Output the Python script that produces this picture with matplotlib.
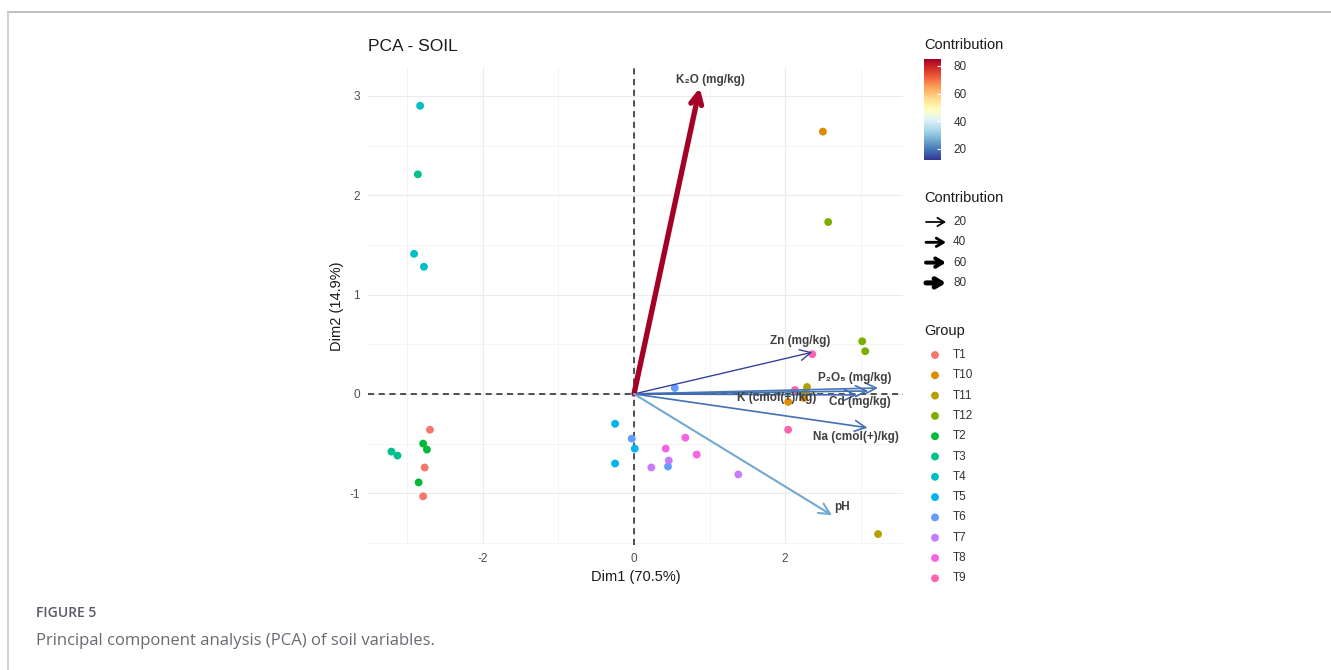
import numpy as np
import matplotlib
matplotlib.use("Agg")
import matplotlib.pyplot as plt
from matplotlib.colors import Normalize
from matplotlib.cm import ScalarMappable
from matplotlib.lines import Line2D

plt.rcParams['font.family'] = ['Liberation Sans', 'DejaVu Sans']
plt.rcParams['axes.unicode_minus'] = False

# ---- data ----
groups = ["T1", "T10", "T11", "T12", "T2", "T3", "T4", "T5", "T6", "T7", "T8", "T9"]
group_colors = ["#F8766D", "#DE8C00", "#B79F00", "#7CAE00", "#00BA38", "#00C08B",
                "#00BFC4", "#00B4F0", "#619CFF", "#C77CFF", "#F564E3", "#FF64B0"]
ind_dim1 = {
    "T1": [-2.70, -2.77, -2.79],
    "T10": [2.50, 2.04, 2.25],
    "T11": [3.23, 2.29, 2.27],
    "T12": [2.57, 3.02, 3.06],
    "T2": [-2.79, -2.74, -2.85],
    "T3": [-2.86, -3.21, -3.13],
    "T4": [-2.83, -2.91, -2.78],
    "T5": [-0.25, -0.25, 0.01],
    "T6": [-0.03, 0.54, 0.45],
    "T7": [0.23, 0.46, 1.38],
    "T8": [0.42, 0.68, 0.83],
    "T9": [2.36, 2.04, 2.13],
}
ind_dim2 = {
    "T1": [-0.36, -0.74, -1.03],
    "T10": [2.64, -0.08, -0.04],
    "T11": [-1.41, 0.07, 0.02],
    "T12": [1.73, 0.53, 0.43],
    "T2": [-0.50, -0.56, -0.89],
    "T3": [2.21, -0.58, -0.62],
    "T4": [2.90, 1.41, 1.28],
    "T5": [-0.30, -0.70, -0.55],
    "T6": [-0.45, 0.06, -0.73],
    "T7": [-0.74, -0.67, -0.81],
    "T8": [-0.55, -0.44, -0.61],
    "T9": [0.40, -0.36, 0.04],
}

variables = ["K\u2082O (mg/kg)", "Zn (mg/kg)", "P\u2082O\u2085 (mg/kg)", "Cd (mg/kg)",
             "K (cmol(+)/kg)", "Na (cmol(+)/kg)", "pH"]
var_dim1 = [0.87, 2.36, 3.23, 3.10, 2.95, 3.09, 2.62]
var_dim2 = [3.08, 0.42, 0.06, 0.03, -0.01, -0.34, -1.22]
var_contrib = [85, 13, 20, 19, 18, 19, 26]
# label offsets from arrow tips (points)
label_offsets = [(8, 6), (-9, 8), (-17, 7), (-6, -8), (-58, -2), (-8, -7), (7, 6)]

contrib_ticks = [20, 40, 60, 80]
cmin, cmax = 12, 85


def width_for(c):
    return 0.45 + c * 0.04


fig = plt.figure(figsize=(13.31, 6.70), dpi=100)
W, H = 1331, 670

ax = fig.add_axes([368 / W, 1 - 545 / H, 535 / W, 477 / H])
ax.set_xlim(-3.52, 3.56)
ax.set_ylim(-1.52, 3.28)
for s in ax.spines.values():
    s.set_visible(False)
ax.set_xticks([-2, 0, 2])
ax.set_yticks([-1, 0, 1, 2, 3])
ax.set_xticks([-3, -1, 1, 3], minor=True)
ax.set_yticks([-1.5, -0.5, 0.5, 1.5, 2.5], minor=True)
ax.grid(True, which='major', color='#ebebeb', lw=0.8)
ax.grid(True, which='minor', color='#f2f2f2', lw=0.6)
ax.tick_params(which='both', length=0, labelsize=8.5, labelcolor='#4d4d4d', pad=6)
ax.set_axisbelow(True)

ax.axhline(0, color='#222222', ls=(0, (4, 3)), lw=1.1, zorder=1)
ax.axvline(0, color='#222222', ls=(0, (4, 3)), lw=1.1, zorder=1)

for g, col in zip(groups, group_colors):
    ax.scatter(ind_dim1[g], ind_dim2[g], s=32, color=col, edgecolors='none', zorder=3)

cmap = plt.get_cmap('RdYlBu_r')
norm = Normalize(cmin, cmax)
for name, x, y, c, off in zip(variables, var_dim1, var_dim2, var_contrib, label_offsets):
    col = cmap(norm(c))
    ax.annotate("", xy=(x, y), xytext=(0, 0),
                arrowprops=dict(arrowstyle='->,head_length=0.6,head_width=0.3',
                                color=col, lw=width_for(c), shrinkA=0, shrinkB=0,
                                mutation_scale=13),
                zorder=4)
    ax.annotate(name, xy=(x, y), xytext=off, textcoords='offset points',
                ha='center', va='center', fontsize=8.5, fontweight='bold',
                color='#404040', zorder=5)

ax.set_title("PCA - SOIL", loc='left', fontsize=12.5, color='#1a1a1a', pad=12)
ax.set_xlabel("Dim1 (70.5%)", fontsize=10.5, color='#1a1a1a', labelpad=3)
ax.set_ylabel("Dim2 (14.9%)", fontsize=10.5, color='#1a1a1a', labelpad=4)

# ---- colour legend ----
cax = fig.add_axes([924 / W, 1 - 160 / H, 17 / W, 101 / H])
cb = fig.colorbar(ScalarMappable(norm=norm, cmap=cmap), cax=cax, ticks=contrib_ticks)
cb.outline.set_visible(False)
cax.tick_params(direction='in', color='white', length=3, width=0.8,
                labelsize=8.5, labelcolor='#333333', pad=9)

# ---- overlay for the other legends and caption ----
lax = fig.add_axes([0, 0, 1, 1])
lax.set_xlim(0, W)
lax.set_ylim(H, 0)
lax.axis('off')

lax.text(924, 45, "Contribution", fontsize=10.5, color='#1a1a1a', va='center')
lax.text(924, 198, "Contribution", fontsize=10.5, color='#1a1a1a', va='center')
for i, c in enumerate(contrib_ticks):
    yy = 222 + i * 20.3
    lax.annotate("", xy=(946, yy), xytext=(926, yy),
                 arrowprops=dict(arrowstyle='->,head_length=0.5,head_width=0.3',
                                 color='black', lw=width_for(c), shrinkA=0, shrinkB=0,
                                 mutation_scale=10))
    lax.text(953, yy, str(c), fontsize=8.5, color='#333333', va='center')

lax.text(924, 331, "Group", fontsize=10.5, color='#1a1a1a', va='center')
for i, (g, col) in enumerate(zip(groups, group_colors)):
    yy = 355 + i * 20.3
    lax.scatter([935], [yy], s=32, color=col, edgecolors='none')
    lax.text(953, yy, g, fontsize=8.5, color='#333333', va='center')

# page frame and caption
lax.add_line(Line2D([8, W], [12, 12], color='#b4b4bc', lw=1.2))
lax.add_line(Line2D([8, 8], [12, H], color='#c8c8d0', lw=1.2))
lax.text(36, 613, "FIGURE 5", fontsize=10, color='#5a5a68', fontweight='semibold',
         va='center', family=['Open Sans', 'DejaVu Sans'])
lax.text(36, 641, "Principal component analysis (PCA) of soil variables.", fontsize=12,
         color='#6a6a72', va='center', family=['Open Sans', 'DejaVu Sans'])

fig.savefig("out.png", dpi=100)
